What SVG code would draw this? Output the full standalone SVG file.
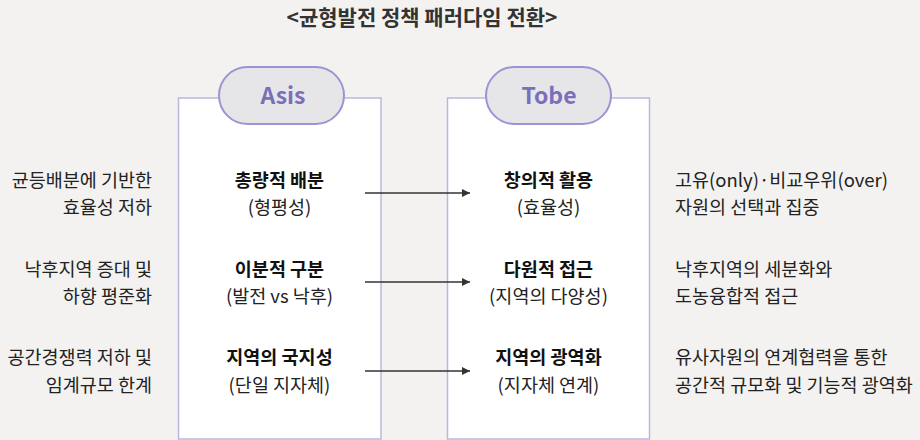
<svg xmlns="http://www.w3.org/2000/svg" width="920" height="440" viewBox="0 0 920 440">
<defs>
<style>
text{font-family:"Noto Sans CJK KR","Noto Sans",sans-serif;}
.title{font-size:21px;font-weight:700;fill:#333;text-anchor:middle;}
.box{fill:#ffffff;stroke:#bcb6de;stroke-width:1.5;}
.pill{fill:#e6e6e9;stroke:#9d93d2;stroke-width:2;}
.pilltxt{font-size:23px;font-weight:700;fill:#7a6fb9;text-anchor:middle;}
.b{font-size:18.5px;font-weight:700;fill:#111;text-anchor:middle;}
.n{font-size:18.5px;fill:#222;text-anchor:middle;}
.l{font-size:18.5px;fill:#222;text-anchor:end;}
.r{font-size:18.5px;fill:#222;text-anchor:start;}
.arr{stroke:#333;stroke-width:1.5;fill:none;marker-end:url(#ah);}
</style>
<marker id="ah" viewBox="0 0 10 10" refX="10" refY="5" markerWidth="8" markerHeight="8" markerUnits="userSpaceOnUse" orient="auto">
<path d="M0,0 L10,5 L0,10 z" fill="#333"/>
</marker>
</defs>
<rect width="920" height="440" fill="#f3f2f0"/>
<text class="title" x="422" y="25">&lt;균형발전 정책 패러다임 전환&gt;</text>

<g id="asis">
<rect class="box" x="178.5" y="98" width="202.5" height="341"/>
<rect class="pill" x="219" y="67" width="125" height="57" rx="28.5"/>
<text class="pilltxt" x="283" y="103.5">Asis</text>
<text class="b" x="279.5" y="186.5">총량적 배분</text>
<text class="n" x="279.5" y="213.5">(형평성)</text>
<text class="b" x="279.5" y="275.5">이분적 구분</text>
<text class="n" x="279.5" y="302.5">(발전 vs 낙후)</text>
<text class="b" x="279.5" y="363.5">지역의 국지성</text>
<text class="n" x="279.5" y="391.5">(단일 지자체)</text>
</g>

<g id="tobe">
<rect class="box" x="447.5" y="98" width="202" height="341"/>
<rect class="pill" x="486" y="67" width="125" height="57" rx="28.5"/>
<text class="pilltxt" x="549" y="103.5">Tobe</text>
<text class="b" x="548.5" y="186.5">창의적 활용</text>
<text class="n" x="548.5" y="213.5">(효율성)</text>
<text class="b" x="548.5" y="275.5">다원적 접근</text>
<text class="n" x="548.5" y="302.5">(지역의 다양성)</text>
<text class="b" x="548.5" y="363.5">지역의 광역화</text>
<text class="n" x="548.5" y="391.5">(지자체 연계)</text>
</g>

<g id="left-notes">
<text class="l" x="152" y="186.5">균등배분에 기반한</text>
<text class="l" x="152" y="213.5">효율성 저하</text>
<text class="l" x="152" y="275.5">낙후지역 증대 및</text>
<text class="l" x="152" y="302.5">하향 평준화</text>
<text class="l" x="152" y="363.5">공간경쟁력 저하 및</text>
<text class="l" x="152" y="391.5">임계규모 한계</text>
</g>

<g id="right-notes">
<text class="r" x="675" y="186.5">고유(only)·비교우위(over)</text>
<text class="r" x="675" y="213.5">자원의 선택과 집중</text>
<text class="r" x="675" y="275.5">낙후지역의 세분화와</text>
<text class="r" x="675" y="302.5">도농융합적 접근</text>
<text class="r" x="675" y="363.5">유사자원의 연계협력을 통한</text>
<text class="r" x="675" y="391.5">공간적 규모화 및 기능적 광역화</text>
</g>

<g id="connectors">
<line class="arr" x1="365" y1="193" x2="470" y2="193"/>
<line class="arr" x1="365" y1="282" x2="470" y2="282"/>
<line class="arr" x1="365" y1="371" x2="470" y2="371"/>
</g>
</svg>
